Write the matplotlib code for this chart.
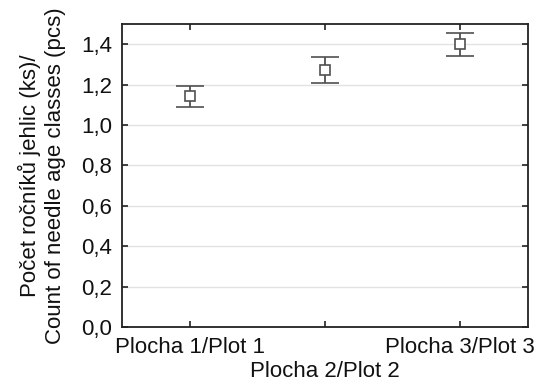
import numpy as np
import matplotlib
matplotlib.use("Agg")
import matplotlib.pyplot as plt
from matplotlib.ticker import FuncFormatter

plt.rcParams['font.family'] = ['Liberation Sans', 'DejaVu Sans']

# data
plots = ["Plocha 1/Plot 1", "Plocha 2/Plot 2", "Plocha 3/Plot 3"]
means = [1.142, 1.272, 1.400]
errs = [0.053, 0.066, 0.056]
y_ticks = [0.0, 0.2, 0.4, 0.6, 0.8, 1.0, 1.2, 1.4]

fig = plt.figure(figsize=(5.38, 3.89), dpi=100)
ax = fig.add_axes([122 / 538, 1 - 327 / 389, (528 - 122) / 538, (327 - 24) / 389])

x = np.arange(len(plots))
ax.errorbar(x, means, yerr=errs, fmt="s", color="#505050", mfc="white", mec="#505050",
            markersize=7, mew=1.2, elinewidth=1.3, capsize=10, capthick=1.3, zorder=3)

ax.set_xlim(-0.5, 2.5)
ax.set_ylim(0, 1.5)
ax.set_yticks(y_ticks)
ax.yaxis.set_major_formatter(FuncFormatter(lambda v, p: f"{v:.1f}".replace(".", ",")))
ax.set_xticks(x)
ax.set_xticklabels(plots)
for i, lab in enumerate(ax.get_xticklabels()):
    if i % 2 == 1:
        lab.set_y(-0.079)

ax.grid(axis="y", color="#e2e2e2", linewidth=1)
ax.set_axisbelow(True)
ax.tick_params(direction="in", top=True, right=True, length=4, width=1.2,
               labelsize=16, colors="#222222", labelcolor="#111111")
ax.tick_params(axis="x", pad=7)
ax.tick_params(axis="y", pad=7)
for s in ax.spines.values():
    s.set_linewidth(1.3)
    s.set_color("#222222")

ax.set_ylabel("Počet ročníků jehlic (ks)/\nCount of needle age classes (pcs)",
              fontsize=16, color="#111111", linespacing=1.25)
ax.yaxis.set_label_coords(-0.138, 0.5)

fig.savefig("out.png", dpi=100)
